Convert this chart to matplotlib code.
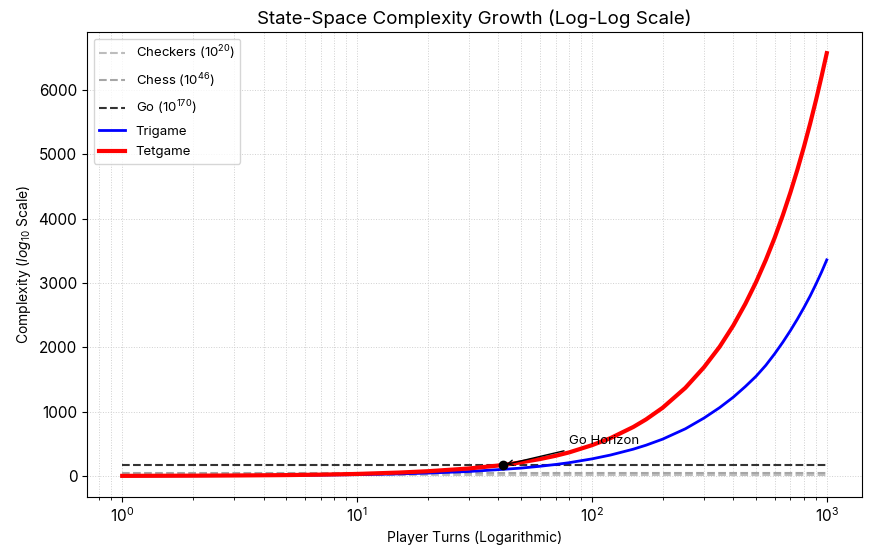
import numpy as np
import matplotlib
matplotlib.use("Agg")
import matplotlib.pyplot as plt

# values
turns = [1, 2, 3, 5, 7, 10, 15, 20, 30, 42, 50, 60, 70, 80, 100, 120, 150, 170, 200,
         250, 300, 350, 400, 450, 500, 550, 600, 650, 700, 750, 800, 850, 900, 950, 1000]
trigame = [1, 3, 5, 9, 13, 20, 31, 44, 69, 103, 122, 150, 178, 206, 265, 325, 416, 478, 572,
           733, 900, 1063, 1225, 1390, 1550, 1720, 1900, 2080, 2260, 2440, 2620, 2800, 2985, 3170, 3360]
tetgame = [1, 4, 7, 13, 20, 31, 52, 73, 116, 170, 212, 262, 313, 366, 478, 588, 761, 879, 1060,
           1370, 1690, 2010, 2340, 2676, 3015, 3358, 3704, 4055, 4408, 4764, 5122, 5483, 5846, 6212, 6575]

benchmarks = ["Checkers", "Chess", "Go"]
bench_exp = [20, 46, 170]
bench_col = ["#bdbdbd", "#a6a6a6", "#333333"]

horizon_x = 42
horizon_y = 170

plt.rcParams['font.family'] = ['Inter', 'DejaVu Sans']
plt.rcParams['mathtext.fontset'] = 'custom'
plt.rcParams['mathtext.rm'] = 'Inter'
plt.rcParams['mathtext.it'] = 'Inter:italic'

fig = plt.figure(figsize=(8.71, 5.54), dpi=100)
ax = fig.add_axes([87/871, 1-497/554, (862-87)/871, (497-32)/554])

for name, e, c in zip(benchmarks, bench_exp, bench_col):
    ax.plot([turns[0], turns[-1]], [e, e], ls='--', color=c, lw=1.5,
            label=r"%s ($10^{%d}$)" % (name, e))

ax.plot(turns, trigame, color='blue', lw=2, label='Trigame')
ax.plot(turns, tetgame, color='red', lw=3, label='Tetgame')

ax.plot(horizon_x, horizon_y, 'ko', ms=6)
ax.annotate('Go Horizon', xy=(horizon_x, horizon_y), xytext=(80, 490),
            fontsize=9.5, arrowprops=dict(arrowstyle='->', color='black', lw=1))

ax.set_xscale('log')
ax.grid(True, which='both', ls=':', color='#d0d0d0', lw=0.7)
ax.set_title('State-Space Complexity Growth (Log-Log Scale)', fontsize=13.5)
ax.set_xlabel('Player Turns (Logarithmic)', fontsize=10)
ax.set_ylabel(r'Complexity ($log_{10}$ Scale)', fontsize=10)
ax.tick_params(labelsize=11)
ax.legend(loc='upper left', fontsize=9.5, labelspacing=0.65)

fig.savefig('out.png', dpi=100)
